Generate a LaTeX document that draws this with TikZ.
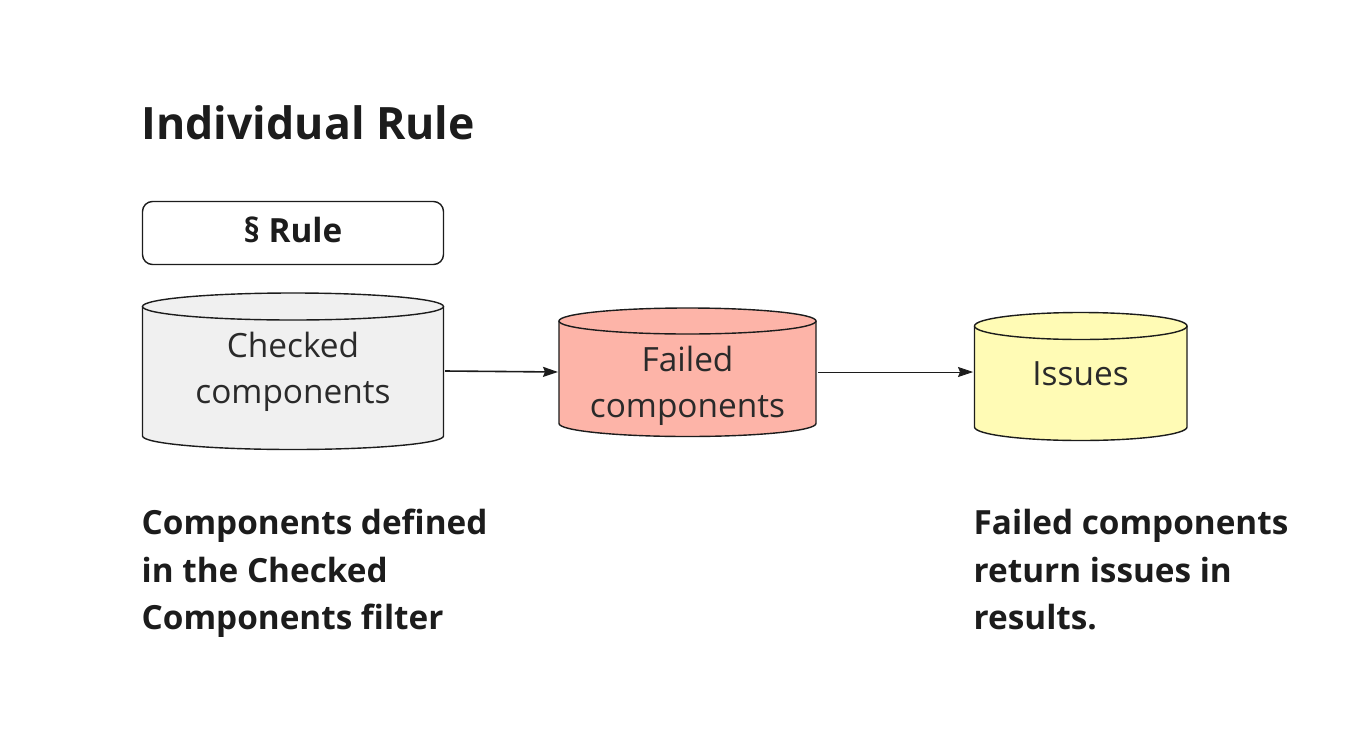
\documentclass[tikz,border=0pt]{standalone}
\usepackage{fontspec}
\setmainfont{Open Sans}
\usetikzlibrary{arrows.meta}
\definecolor{ink}{HTML}{1C1C1C}
\definecolor{labelink}{HTML}{2A2A2A}
\definecolor{grayfill}{HTML}{F0F0F0}
\definecolor{redfill}{HTML}{FDB4A8}
\definecolor{yellowfill}{HTML}{FFFBB5}
\tikzset{
  x=1pt,y=-1pt,
  cyl/.style={draw=ink,line width=1.4pt},
  lbl/.style={text=labelink,font=\fontsize{33.4}{46}\selectfont,align=center,inner sep=0pt},
  note/.style={text=ink,font=\fontsize{33.3}{47.5}\bfseries\selectfont,anchor=north west,align=left,inner sep=0pt},
  conn/.style={draw=ink,-{Stealth[length=15pt,width=10pt,inset=2pt]}},
}
\newcommand{\cylinder}[6]{% x1,ytop,x2,ybot,ry,color
  \fill[#6] (#1,#2) -- (#1,#4) arc[start angle=180,end angle=360,x radius={(#3-#1)/2},y radius=-#5] -- (#3,#2) -- cycle;
  \draw[cyl] (#1,#2) -- (#1,#4) arc[start angle=180,end angle=360,x radius={(#3-#1)/2},y radius=-#5] -- (#3,#2);
  \draw[cyl,fill=#6] ({(#1+#3)/2},#2) ellipse[x radius={(#3-#1)/2},y radius=#5];
}
\begin{document}
\begin{tikzpicture}
\useasboundingbox[fill=white] (0,0) rectangle (1367,731);
\node[text=ink,font=\fontsize{44.6}{50}\bfseries\selectfont,anchor=west,inner sep=0pt] (title) at (141.5,123) {Individual Rule};
\node[draw=ink,line width=1.4pt,rounded corners=10pt,minimum width=301pt,minimum height=63pt,inner sep=0pt] (rule) at (293,233) {};
\node[text=ink,font=\fontsize{33.3}{40}\bfseries\selectfont,inner sep=0pt] (ruletext) at (293,230) {§ Rule};
\cylinder{142.5}{306.5}{443.5}{436}{13.5}{grayfill}
\cylinder{559}{321}{816}{423.5}{13}{redfill}
\cylinder{974.5}{326}{1187}{427}{13.5}{yellowfill}
\node[lbl] (checked) at (293,372) {Checked\\components};
\node[lbl] (failed) at (687.5,386) {Failed\\components};
\node[lbl] (issues) at (1080.5,373.5) {Issues};
\coordinate (a1) at (445,371);
\coordinate (a2) at (558,372);
\coordinate (b1) at (818,372);
\coordinate (b2) at (973,372);
\draw[conn,line width=1.6pt] (a1) -- (a2);
\draw[conn,line width=.7pt] (b1) -- (b2);
\node[note] (n1) at (141.5,509) {Components defined\\in the Checked\\Components filter};
\node[note] (n2) at (973.5,509) {Failed components\\return issues in\\results.};
\end{tikzpicture}
\end{document}
